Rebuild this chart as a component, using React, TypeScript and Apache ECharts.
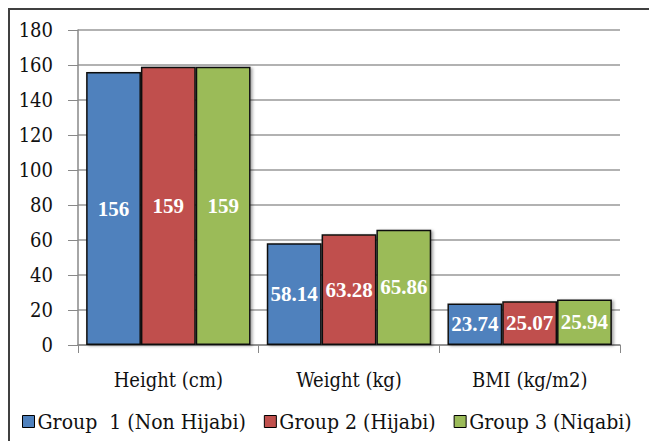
import React, { useEffect, useRef } from "react";
import * as echarts from "echarts";

const categories = ["Height (cm)", "Weight (kg)", "BMI (kg/m2)"];
const seriesNames = ["Group  1 (Non Hijabi)", "Group 2 (Hijabi)", "Group 3 (Niqabi)"];
const group1 = [156, 58.14, 23.74];
const group2 = [159, 63.28, 25.07];
const group3 = [159, 65.86, 25.94];
const colors = ["#4F81BD", "#C0504D", "#9BBB59"];

const FONT = "DejaVu Serif Condensed, DejaVu Serif";
const BOLD_FONT = "Liberation Serif";

export default function App() {
  const ref = useRef<HTMLDivElement>(null);
  useEffect(() => {
    document.body.style.margin = "0";
    const chart = echarts.init(ref.current!, null, { renderer: "svg" });
    const data = [group1, group2, group3];
    chart.setOption({
      animation: false,
      backgroundColor: "#fff",
      graphic: [
        {
          type: "rect",
          shape: { x: 9, y: 9, width: 700, height: 500 },
          style: { fill: "none", stroke: "#404040", lineWidth: 2 },
          silent: true,
        },
      ],
      grid: { left: 78, right: 29, top: 30, bottom: 96 },
      legend: {
        left: 17,
        top: 406,
        itemWidth: 12,
        itemHeight: 12,
        itemGap: 18,
        icon: "rect",
        textStyle: { fontFamily: FONT, fontSize: 21, color: "#111", padding: [0, 0, 0, -2] },
        itemStyle: { borderColor: "#000", borderWidth: 1 },
        data: seriesNames,
      },
      xAxis: {
        type: "category",
        data: categories,
        axisLine: { lineStyle: { color: "#888", width: 1.5 } },
        axisTick: { show: true, length: 8, lineStyle: { color: "#888" } },
        axisLabel: { fontFamily: FONT, fontSize: 20, color: "#111", margin: 25 },
      },
      yAxis: {
        type: "value",
        min: 0,
        max: 180,
        interval: 20,
        axisLine: { show: true, lineStyle: { color: "#888", width: 1.5 } },
        axisTick: { show: true, length: 10, lineStyle: { color: "#888" } },
        splitLine: { lineStyle: { color: "#999", width: 1.5 } },
        axisLabel: { fontFamily: FONT, fontSize: 20, color: "#111", margin: 25 },
      },
      series: seriesNames.map((name, i) => ({
        name,
        type: "bar",
        data: data[i],
        barGap: "0%",
        barCategoryGap: "9%",
        itemStyle: {
          color: colors[i],
          borderColor: "#111",
          borderWidth: 1.5,
          shadowColor: "rgba(0,0,0,0.35)",
          shadowBlur: 3,
          shadowOffsetX: 2,
          shadowOffsetY: 1,
        },
        label: {
          show: true,
          position: "inside",
          color: "#fff",
          fontFamily: BOLD_FONT,
          fontWeight: "bold",
          fontSize: 21,
        },
      })),
    });
    return () => chart.dispose();
  }, []);
  return <div ref={ref} style={{ width: 649, height: 441 }} />;
}
